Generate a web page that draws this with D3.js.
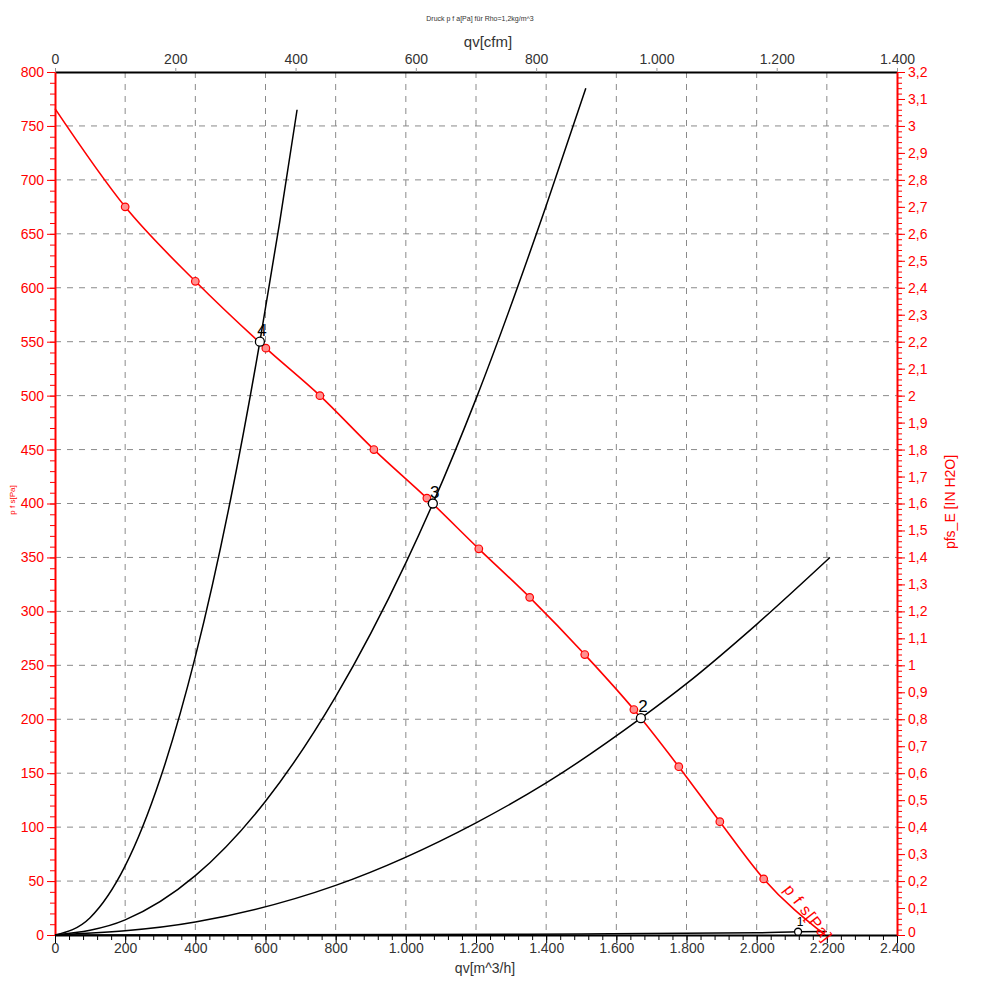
<!DOCTYPE html>
<html><head><meta charset="utf-8">
<script src="https://cdn.jsdelivr.net/npm/d3@7"></script>
<style>body{margin:0;background:#fff}svg{display:block}text{font-family:"Liberation Sans",Arial,sans-serif}</style>
</head><body><svg id="c" width="1000" height="1000"></svg>
<script>
// fan curve (q m^3/h, p Pa)
const fanQ = [0,200,400,601,755,909,1060,1208,1353,1510,1650,1778,1895,2020,2195];
const fanP = [766,675,606,544,500,450,405,358,313,260,209,156,105,52,0];
const markerQ = [200,400,601,755,909,1060,1208,1353,1510,1650,1778,1895,2020];
const markerP = [675,606,544,500,450,405,358,313,260,209,156,105,52];
// system curves
const sys4Q = [0,100,200,300,400,500,584,640,690];
const sys4P = [0,16,64,145,258,403,550,660,765];
const sys3Q = [0,200,400,600,800,1000,1077,1200,1400,1513];
const sys3P = [0,14,55,124,221,345,400,497,676,785];
const sys2Q = [0,400,800,1200,1400,1670,1800,2000,2209];
const sys2P = [0,12,46,104,141,201,233,288,350];
const sys1Q = [0,1000,1500,2000,2118,2200];
const sys1P = [0,0.5,1,2,3,3.3];
// operating points
const opLabels = ["1","2","3","4"];
const opQ = [2118,1670,1077,584];
const opP = [3,201,400,550];
// ticks
const xTicks = d3.range(0,2401,200);
const yTicks = d3.range(0,801,50);
const cfmTicks = d3.range(0,1401,200);
const inTicks = d3.range(0,33,1).map(d=>d/10);

const svg = d3.select("#c");
const L=55,R=897,T=72,B=935;
const x = d3.scaleLinear().domain([0,2400]).range([L,R]);
const y = d3.scaleLinear().domain([0,800]).range([B,T]);
const xc = d3.scaleLinear().domain([0,1400]).range([L,R]);
const yi = d3.scaleLinear().domain([0,3.2]).range([B,T]);
const red = "#ff0000", grey="#333";
const fmtDot = d => d3.format(",")(d).replace(/,/g,".");
const fmtComma = d => String(+d.toFixed(1)).replace(".",",");

// grid
const g = svg.append("g");
g.selectAll(".vg").data(xTicks.filter(d=>d>0&&d<2400)).join("line")
 .attr("x1",d=>x(d)).attr("x2",d=>x(d)).attr("y1",T).attr("y2",B)
 .attr("stroke","#8a8a8a").attr("stroke-width",1).attr("stroke-dasharray","6,6");
g.selectAll(".hg").data(yTicks.filter(d=>d>0&&d<800)).join("line")
 .attr("y1",d=>y(d)).attr("y2",d=>y(d)).attr("x1",L).attr("x2",R)
 .attr("stroke","#8a8a8a").attr("stroke-width",1).attr("stroke-dasharray","6,6");

// axes
function styleAxis(sel,color){
  sel.selectAll("path").attr("stroke",color).attr("stroke-width",2);
  sel.selectAll("line").attr("stroke",color);
  sel.selectAll("text").attr("fill",color).style("font-size","14px");
}
// bottom
const bx = svg.append("g").attr("transform",`translate(0,${B})`)
 .call(d3.axisBottom(x).tickValues(d3.range(0,2401,40)).tickSize(5).tickFormat(""));
bx.selectAll("path").remove(); bx.selectAll("line").attr("stroke","#000");
const bx2 = svg.append("g").attr("transform",`translate(0,${B})`)
 .call(d3.axisBottom(x).tickValues(xTicks).tickSize(8).tickSizeOuter(0).tickFormat(fmtDot));
styleAxis(bx2,"#000"); bx2.selectAll("text").attr("fill",grey).attr("dy","0.5em");
// top
const tx = svg.append("g").attr("transform",`translate(0,${T})`)
 .call(d3.axisTop(xc).tickValues(cfmTicks).tickSize(4).tickSizeOuter(0).tickFormat(fmtDot));
styleAxis(tx,"#000"); tx.selectAll("line").attr("stroke","#999"); tx.selectAll("text").attr("fill",grey).attr("dy","-0.1em");
// left
const ly = svg.append("g").attr("transform",`translate(${L},0)`)
 .call(d3.axisLeft(y).tickValues(d3.range(0,801,10)).tickSize(5).tickFormat(""));
ly.selectAll("path").remove(); ly.selectAll("line").attr("stroke",red);
const ly2 = svg.append("g").attr("transform",`translate(${L},0)`)
 .call(d3.axisLeft(y).tickValues(yTicks).tickSize(8).tickSizeOuter(0).tickFormat(d3.format("d")));
styleAxis(ly2,red);
// right
const ry = svg.append("g").attr("transform",`translate(${R},0)`)
 .call(d3.axisRight(yi).tickValues(d3.range(0,161,1).map(d=>d/50)).tickSize(5).tickFormat(""));
ry.selectAll("path").remove(); ry.selectAll("line").attr("stroke",red);
const ry2 = svg.append("g").attr("transform",`translate(${R},0)`)
 .call(d3.axisRight(yi).tickValues(inTicks).tickSize(8).tickSizeOuter(0).tickFormat(fmtComma));
styleAxis(ry2,red);
ry2.selectAll("text").filter(d=>d===0).attr("dy","0.1em");

// curves
const line = d3.line().x(d=>x(d[0])).y(d=>y(d[1])).curve(d3.curveMonotoneX);
const zip = (a,b)=>a.map((v,i)=>[v,b[i]]);
[[sys4Q,sys4P],[sys3Q,sys3P],[sys2Q,sys2P],[sys1Q,sys1P]].forEach(([q,p])=>{
  svg.append("path").datum(zip(q,p)).attr("d",line).attr("fill","none").attr("stroke","#000").attr("stroke-width",1.5);
});
svg.append("path").datum(zip(fanQ,fanP)).attr("d",line).attr("fill","none").attr("stroke",red).attr("stroke-width",1.6);
svg.selectAll(".mk").data(zip(markerQ,markerP)).join("circle")
 .attr("cx",d=>x(d[0])).attr("cy",d=>y(d[1])).attr("r",3.8)
 .attr("fill","#ff9090").attr("stroke",red).attr("stroke-width",1.2);
// operating points
const ops = opLabels.map((l,i)=>({l,q:opQ[i],p:opP[i]}));
svg.selectAll(".op").data(ops).join("circle")
 .attr("cx",d=>x(d.q)).attr("cy",d=>y(d.p)).attr("r",d=>d.l==="1"?3.5:4.5)
 .attr("fill","#fff").attr("stroke","#000").attr("stroke-width",1.3);
svg.selectAll(".opl").data(ops).join("text")
 .attr("x",d=>x(d.q)+2).attr("y",d=>y(d.p)-6).attr("text-anchor","middle")
 .style("font-size",d=>d.l==="1"?"12px":"17px").attr("fill","#000").text(d=>d.l);

// texts
svg.append("text").attr("x",480).attr("y",21).attr("text-anchor","middle").style("font-size","7px").attr("fill","#333")
 .text("Druck p f a[Pa] für Rho=1,2kg/m^3");
svg.append("text").attr("x",488).attr("y",47).attr("text-anchor","middle").style("font-size","15px").attr("fill",grey).text("qv[cfm]");
svg.append("text").attr("x",485).attr("y",973).attr("text-anchor","middle").style("font-size","14px").attr("fill",grey).text("qv[m^3/h]");
svg.append("text").attr("transform","translate(955,502) rotate(-90)").attr("text-anchor","middle").style("font-size","14px").attr("fill",red).text("pfs_E [IN H2O]");
svg.append("text").attr("transform","translate(15,500) rotate(-90)").attr("text-anchor","middle").style("font-size","8px").attr("fill",red).text("p f s[Pa]");
svg.append("text").attr("transform",`translate(${x(2075)},${y(42)}) rotate(52)`).style("font-size","16px").style("letter-spacing","1px").attr("fill",red).text("p f s[Pa]");
</script></body></html>
